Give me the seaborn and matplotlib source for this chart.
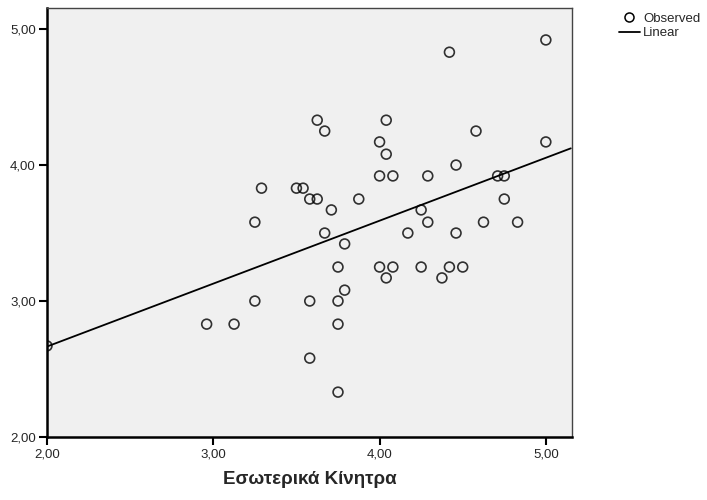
import numpy as np
import pandas as pd
import seaborn as sns
import matplotlib.pyplot as plt
from matplotlib.lines import Line2D
from matplotlib.ticker import FuncFormatter

x_values = [2.00, 2.96, 3.125, 3.25, 3.25, 3.29, 3.50, 3.54, 3.58, 3.625,
            3.625, 3.67, 3.67, 3.71, 3.58, 3.58, 3.75, 3.75, 3.75, 3.75,
            3.79, 3.79, 3.875, 4.00, 4.00, 4.00, 4.04, 4.04, 4.04, 4.08,
            4.08, 4.17, 4.25, 4.25, 4.29, 4.29, 4.375, 4.42, 4.42, 4.46,
            4.46, 4.50, 4.58, 4.625, 4.71, 4.75, 4.75, 4.83, 5.00, 5.00]
y_values = [2.67, 2.83, 2.83, 3.00, 3.58, 3.83, 3.83, 3.83, 3.75, 3.75,
            4.33, 4.25, 3.50, 3.67, 3.00, 2.58, 3.00, 2.83, 3.25, 2.33,
            3.42, 3.08, 3.75, 4.17, 3.92, 3.25, 4.33, 4.08, 3.17, 3.92,
            3.25, 3.50, 3.67, 3.25, 3.92, 3.58, 3.17, 4.83, 3.25, 4.00,
            3.50, 3.25, 4.25, 3.58, 3.92, 3.92, 3.75, 3.58, 4.92, 4.17]
x_ticks = [2.0, 3.0, 4.0, 5.0]
y_ticks = [2.0, 3.0, 4.0, 5.0]
x_label = "Εσωτερικά Κίνητρα"
legend_labels = ["Observed", "Linear"]

df = pd.DataFrame({"x": x_values, "y": y_values})

sns.set_theme(style="white")
plt.rcParams['font.family'] = ['Liberation Sans', 'DejaVu Sans']

fig = plt.figure(figsize=(7.07, 5.0), dpi=100)
ax = fig.add_axes([0.0665, 0.126, 0.7425, 0.858])
ax.set_facecolor("#F0F0F0")

sns.regplot(data=df, x="x", y="y", ax=ax, ci=None, truncate=False,
            scatter_kws=dict(s=50, facecolors="none", edgecolors="black", linewidths=1.2),
            line_kws=dict(color="black", linewidth=1.3))

ax.set_xlim(2.0, 5.157)
ax.set_ylim(2.0, 5.155)
ax.set_xticks(x_ticks)
ax.set_yticks(y_ticks)
fmt = FuncFormatter(lambda v, p: f"{v:.2f}".replace(".", ","))
ax.xaxis.set_major_formatter(fmt)
ax.yaxis.set_major_formatter(fmt)
ax.tick_params(axis="both", direction="out", length=6, width=1.5, color="black",
               labelsize=9.5, pad=2, bottom=True, left=True)
ax.set_xlabel(x_label, fontsize=13.5, fontweight="bold", labelpad=8)
ax.set_ylabel("")

for side in ["left", "bottom"]:
    ax.spines[side].set_color("black")
    ax.spines[side].set_linewidth(1.8)
for side in ["top", "right"]:
    ax.spines[side].set_color("#444444")
    ax.spines[side].set_linewidth(1.0)

handles = [Line2D([], [], marker="o", linestyle="none", markerfacecolor="none",
                  markeredgecolor="black", markersize=6.5, markeredgewidth=1.1),
           Line2D([], [], color="black", linewidth=1.3)]
fig.legend(handles, legend_labels, loc="upper left", bbox_to_anchor=(0.862, 0.993),
           frameon=False, fontsize=9.5, handlelength=1.6, handletextpad=0.25,
           borderaxespad=0.3, labelspacing=0.15)

fig.savefig("out.png", dpi=100)
